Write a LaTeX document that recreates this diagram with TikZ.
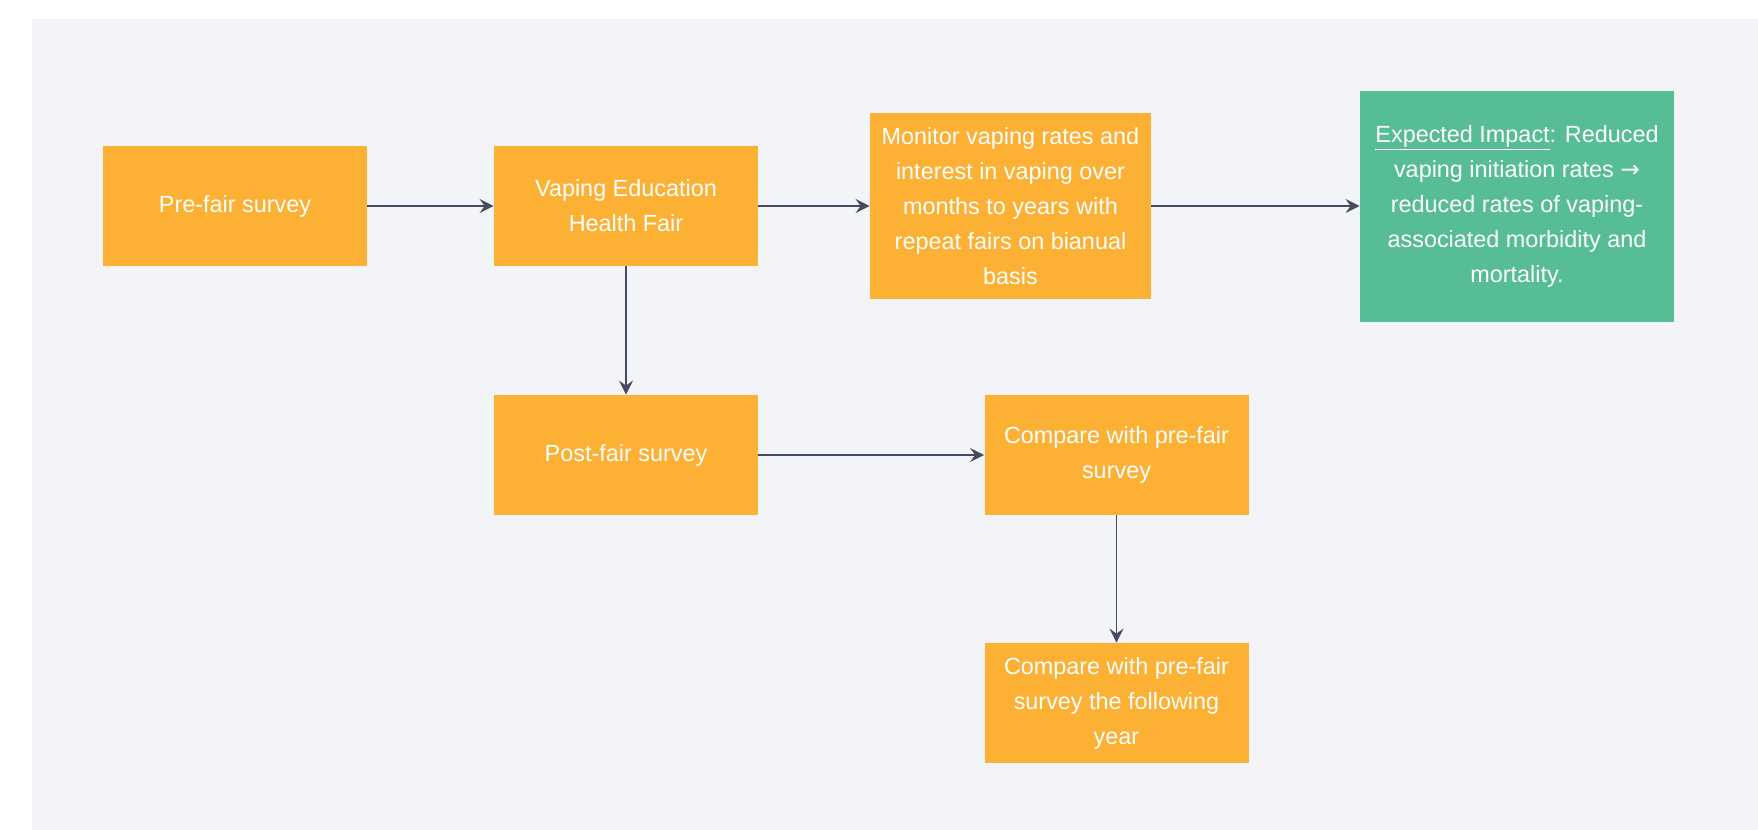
\documentclass[tikz,border=0pt]{standalone}
\usepackage{fontspec}
\setmainfont{Liberation Sans}
\newfontfamily\arrowfont{DejaVu Sans}
\usetikzlibrary{arrows.meta}

\definecolor{pagebg}{HTML}{F3F4F8}
\definecolor{boxorange}{HTML}{FCB034}
\definecolor{boxgreen}{HTML}{56BD94}
\definecolor{linkgray}{HTML}{474A62}

\tikzset{
  box/.style={fill=boxorange, text=white, align=center, inner sep=0pt,
    minimum width=132pt, minimum height=60pt,
    font=\fontsize{11.7}{17.5}\selectfont},
  impactbox/.style={box, fill=boxgreen},
  flow/.style={draw=linkgray, line width=0.9pt,
    -{Stealth[length=7pt,width=7pt,inset=2.5pt]}}
}

\begin{document}
\begin{tikzpicture}[x=0.5pt,y=-0.5pt]
\useasboundingbox (0,0) rectangle (1758,830);
\fill[pagebg] (32,19) rectangle (1758,830); % page background

% top row
\node[box] (pre) at (235,206) {Pre-fair survey};
\node[box] (fair) at (626,206) {Vaping Education\\Health Fair};
\node[box, minimum width=140.5pt, minimum height=93pt] (monitor) at (1010.5,206)
  {Monitor vaping rates and\\interest in vaping over\\months to years with\\repeat fairs on bianual\\basis};
\node[impactbox, minimum width=157pt, minimum height=115.5pt] (impact) at (1517,206)
  {\underline{Expected Impact}: Reduced\\vaping initiation rates {\arrowfont →}\\reduced rates of vaping-\\associated morbidity and\\mortality.};

% lower rows
\node[box] (post) at (626,455) {Post-fair survey};
\node[box] (cmpA) at (1116.5,455) {Compare with pre-fair\\survey};
\node[box] (cmpB) at (1116.5,703) {Compare with pre-fair\\survey the following\\year};

% connectors
\draw[flow] (pre.east) -- (fair.west);
\draw[flow] (fair.east) -- (monitor.west);
\draw[flow] (monitor.east) -- (impact.west);
\draw[flow] (fair.south) -- (post.north);
\draw[flow] (post.east) -- (cmpA.west);
\draw[flow] (cmpA.south) -- (cmpB.north);
\end{tikzpicture}
\end{document}
